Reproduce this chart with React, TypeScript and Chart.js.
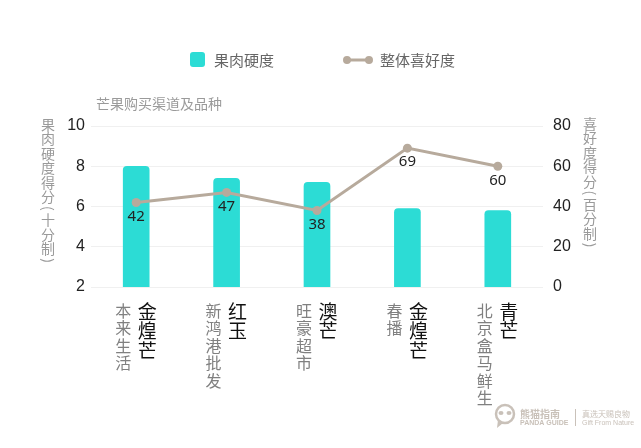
import React, { useEffect, useRef } from 'react';
import { Chart, registerables } from 'chart.js';

Chart.register(...registerables);

const channels = ['本来生活', '新鸿港批发', '旺豪超市', '春播', '北京盒马鲜生'];
const varieties = ['金煌芒', '红玉', '澳芒', '金煌芒', '青芒'];
const firmness = [8.0, 7.4, 7.2, 5.9, 5.8];
const preference = [42, 47, 38, 69, 60];
const seriesNames = ['果肉硬度', '整体喜好度'];
const chartTitle = '芒果购买渠道及品种';
const leftAxisTitle = '果肉硬度得分(十分制)';
const rightAxisTitle = '喜好度得分(百分制)';
const logoTexts = ['熊猫指南', 'PANDA GUIDE', '真选天赐良物', 'Gift From Nature'];

const BAR_COLOR = '#2cdcd5';
const LINE_COLOR = '#b7aa9c';
const CJK = '"Noto Sans CJK SC", "Noto Sans", sans-serif';

function drawVertical(
  ctx: CanvasRenderingContext2D,
  text: string,
  cx: number,
  top: number,
  pitch: number,
  font: string,
  color: string
) {
  ctx.save();
  ctx.font = font;
  ctx.fillStyle = color;
  ctx.textAlign = 'center';
  ctx.textBaseline = 'middle';
  let y = top;
  for (const ch of Array.from(text)) {
    if ('()（）'.includes(ch)) {
      const p = pitch * 0.6;
      ctx.save();
      ctx.translate(cx, y + p / 2);
      ctx.rotate(Math.PI / 2);
      ctx.fillText(ch, 0, 0);
      ctx.restore();
      y += p;
    } else {
      ctx.fillText(ch, cx, y + pitch / 2);
      y += pitch;
    }
  }
  ctx.restore();
}

const decorPlugin = {
  id: 'decor',
  afterDatasetsDraw(chart: any) {
    const ctx: CanvasRenderingContext2D = chart.ctx;
    const lineMeta = chart.getDatasetMeta(1);
    ctx.save();
    ctx.font = '15px "Noto Sans", sans-serif';
    ctx.fillStyle = '#222';
    ctx.textAlign = 'center';
    ctx.textBaseline = 'middle';
    lineMeta.data.forEach((pt: any, i: number) => {
      ctx.fillText(String(preference[i]), pt.x, pt.y + 14);
    });
    ctx.restore();
  },
  afterDraw(chart: any) {
    const ctx: CanvasRenderingContext2D = chart.ctx;
    const area = chart.chartArea;
    const xs = chart.scales.x;

    // legend
    ctx.save();
    ctx.fillStyle = BAR_COLOR;
    ctx.beginPath();
    (ctx as any).roundRect(190, 52, 15, 15, 3);
    ctx.fill();
    ctx.font = '15px ' + CJK;
    ctx.fillStyle = '#666';
    ctx.textBaseline = 'middle';
    ctx.textAlign = 'left';
    ctx.fillText(seriesNames[0], 214, 60);
    ctx.strokeStyle = LINE_COLOR;
    ctx.fillStyle = LINE_COLOR;
    ctx.lineWidth = 3;
    ctx.beginPath();
    ctx.moveTo(347, 60);
    ctx.lineTo(369, 60);
    ctx.stroke();
    ctx.beginPath();
    ctx.arc(347, 60, 4, 0, Math.PI * 2);
    ctx.arc(369, 60, 4, 0, Math.PI * 2);
    ctx.fill();
    ctx.fillStyle = '#666';
    ctx.fillText(seriesNames[1], 380, 60);
    ctx.restore();

    // title
    ctx.save();
    ctx.font = '14px ' + CJK;
    ctx.fillStyle = '#9a9a9a';
    ctx.textAlign = 'left';
    ctx.textBaseline = 'middle';
    ctx.fillText(chartTitle, area.left + 5, 104);
    ctx.restore();

    // axis titles
    drawVertical(ctx, leftAxisTitle, 48, 117, 14.5, '14px ' + CJK, '#9a9a9a');
    drawVertical(ctx, rightAxisTitle, 590, 116, 14.5, '14px ' + CJK, '#9a9a9a');

    // x labels
    for (let i = 0; i < channels.length; i++) {
      const c = xs.getPixelForValue(i);
      drawVertical(ctx, channels[i], c - 13, 302, 17.5, '16px ' + CJK, '#808080');
      drawVertical(ctx, varieties[i], c + 11, 302, 19.5, '19px ' + CJK, '#111');
    }

    // logo
    ctx.save();
    const lc = '#c9c1b9';
    ctx.strokeStyle = lc;
    ctx.fillStyle = lc;
    ctx.lineWidth = 2.5;
    ctx.beginPath();
    ctx.arc(505, 414, 9, 0, Math.PI * 2);
    ctx.stroke();
    ctx.beginPath();
    ctx.moveTo(498, 420);
    ctx.lineTo(497, 428);
    ctx.lineTo(503, 423);
    ctx.fill();
    ctx.beginPath();
    ctx.ellipse(501, 413, 2.5, 2, 0, 0, Math.PI * 2);
    ctx.ellipse(509, 413, 2.5, 2, 0, 0, Math.PI * 2);
    ctx.fill();
    ctx.textAlign = 'left';
    ctx.textBaseline = 'middle';
    ctx.font = 'bold 10px ' + CJK;
    ctx.fillText(logoTexts[0], 520, 414);
    ctx.font = 'bold 7px "Liberation Sans", sans-serif';
    ctx.fillText(logoTexts[1], 520, 423);
    ctx.fillRect(575, 409, 1, 17);
    ctx.font = '8px ' + CJK;
    ctx.fillText(logoTexts[2], 582, 414);
    ctx.font = '7px "Liberation Sans", sans-serif';
    ctx.fillText(logoTexts[3], 582, 423);
    ctx.restore();
  },
};

export default function App() {
  const ref = useRef<HTMLCanvasElement | null>(null);
  useEffect(() => {
    document.body.style.margin = '0';
    const canvas = ref.current!;
    const chart = new Chart(canvas, {
      type: 'bar',
      data: {
        labels: channels.map((c, i) => c + ' ' + varieties[i]),
        datasets: [
          {
            type: 'bar',
            label: seriesNames[0],
            data: firmness,
            backgroundColor: BAR_COLOR,
            borderRadius: { topLeft: 4, topRight: 4, bottomLeft: 0, bottomRight: 0 },
            borderSkipped: false,
            barThickness: 26,
            yAxisID: 'y',
            order: 1,
          } as any,
          {
            type: 'line',
            label: seriesNames[1],
            data: preference,
            borderColor: LINE_COLOR,
            backgroundColor: LINE_COLOR,
            borderWidth: 3,
            pointRadius: 4.5,
            pointBackgroundColor: LINE_COLOR,
            pointBorderWidth: 0,
            tension: 0,
            yAxisID: 'y1',
            order: 0,
          } as any,
        ],
      },
      options: {
        responsive: false,
        animation: false,
        layout: { padding: { top: 126, bottom: 161, left: 0, right: 0 } },
        plugins: {
          legend: { display: false },
          title: { display: false },
          tooltip: { enabled: false },
        },
        scales: {
          x: {
            grid: { display: false },
            border: { display: false },
            ticks: { display: false },
            afterFit: (s: any) => {
              s.height = 0;
            },
          },
          y: {
            position: 'left',
            min: 2,
            max: 10,
            ticks: {
              stepSize: 2,
              color: '#222',
              padding: 6,
              font: { size: 16, family: '"Liberation Sans", sans-serif' },
            },
            grid: { color: '#f0f0f0', lineWidth: 1, drawTicks: false },
            border: { display: false },
            afterFit: (s: any) => {
              s.width = 91;
            },
          },
          y1: {
            position: 'right',
            min: 0,
            max: 80,
            ticks: {
              stepSize: 20,
              color: '#222',
              padding: 10,
              font: { size: 16, family: '"Liberation Sans", sans-serif' },
            },
            grid: { display: false, drawTicks: false },
            border: { display: false },
            afterFit: (s: any) => {
              s.width = 98;
            },
          },
        },
      } as any,
      plugins: [decorPlugin],
    });
    return () => chart.destroy();
  }, []);
  return (
    <div style={{ width: 641, height: 448, position: 'relative', background: '#fff' }}>
      <canvas ref={ref} width={641} height={448} style={{ display: 'block' }} />
    </div>
  );
}
